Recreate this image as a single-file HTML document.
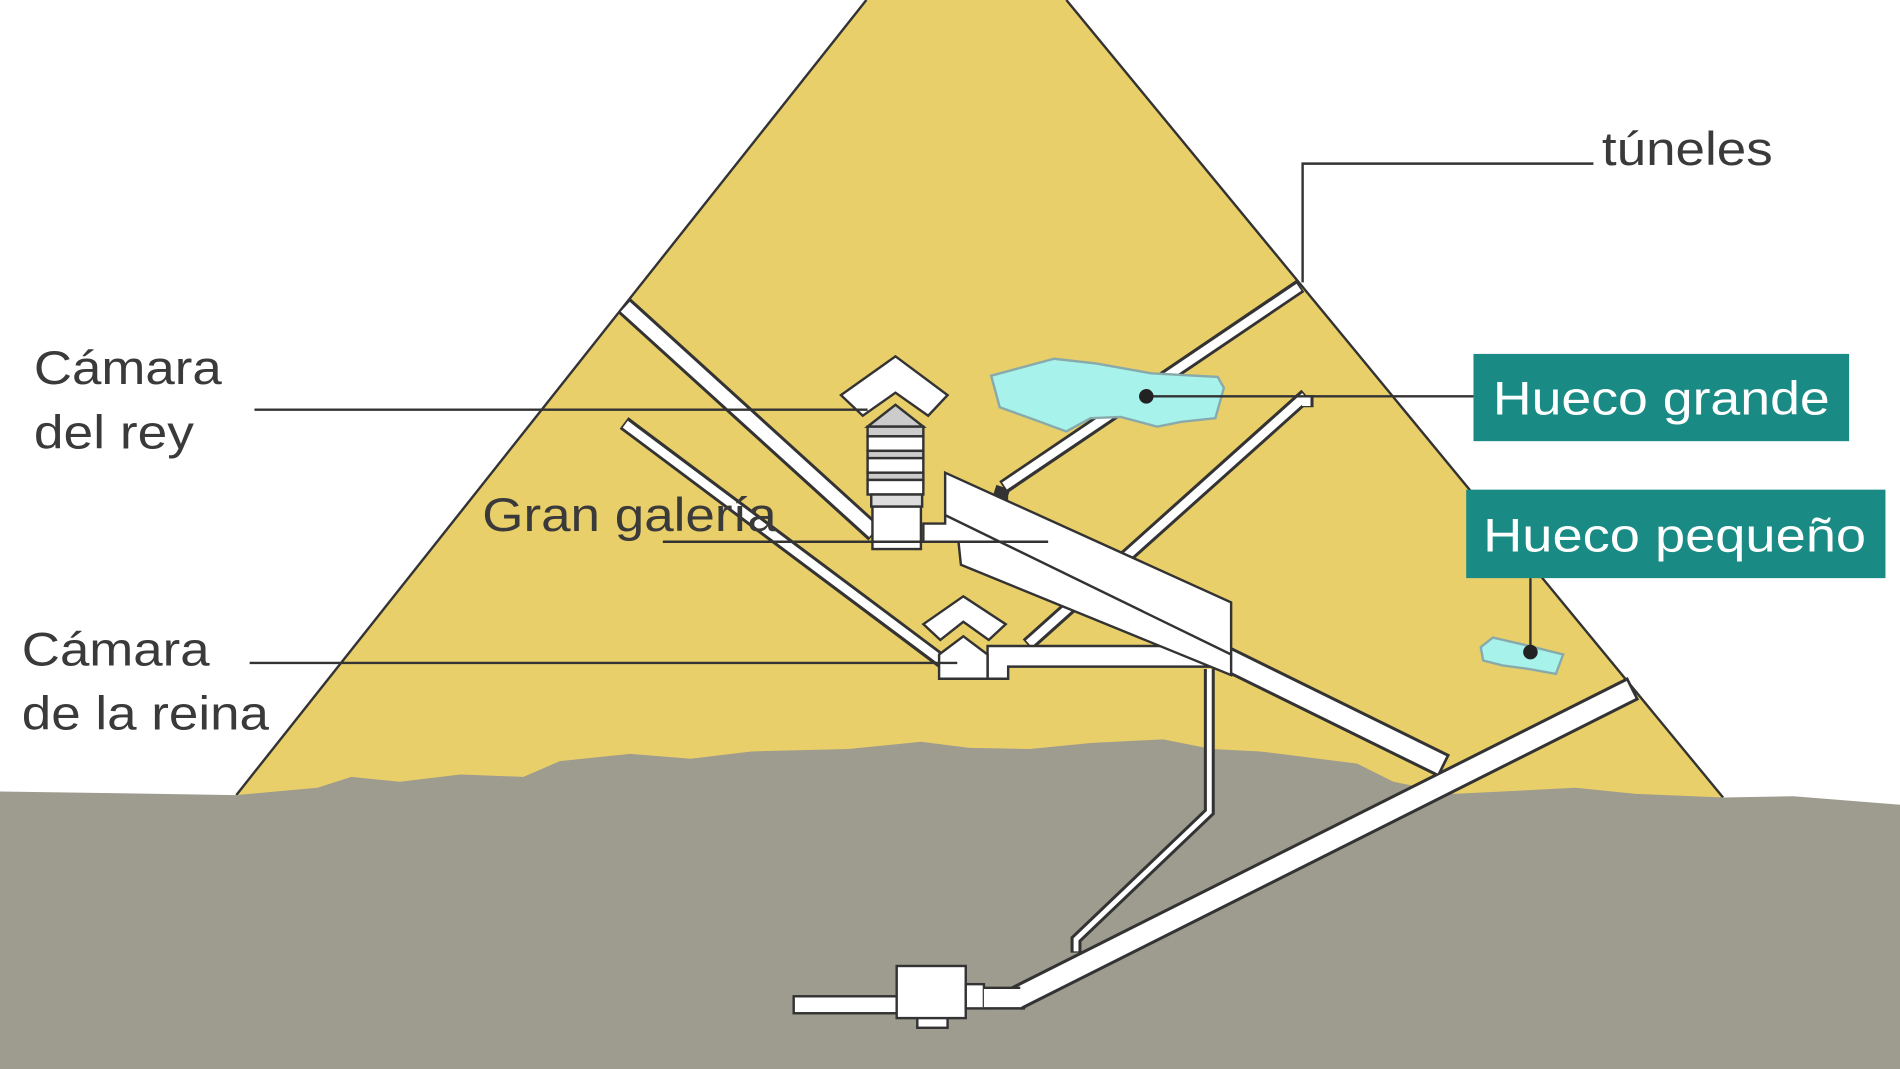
<!DOCTYPE html>
<html><head><meta charset="utf-8"><style>
html,body{margin:0;padding:0;background:#fff;}
svg{display:block;}
text{font-family:"Liberation Sans",sans-serif;}
</style></head><body>
<svg width="1900" height="1069" viewBox="0 0 1568 882" preserveAspectRatio="none" xmlns="http://www.w3.org/2000/svg">
<rect width="1568" height="882" fill="#fff"/>
<polygon points="195,656 715,0 880,0 1422,658" fill="#e9cf6a"/>
<line x1="195" y1="656" x2="715" y2="0" stroke="#333" stroke-width="2"/>
<line x1="880" y1="0" x2="1422" y2="658" stroke="#333" stroke-width="2"/>
<polygon fill="#9e9b8f" points="0,653 195,656 262,650 290,641 330,645 380,639 432,641 462,628 520,622 570,626 620,620 700,618 760,612 800,617 850,618 900,613 960,610 1000,618 1040,620 1080,625 1120,630 1150,645 1200,655 1260,652 1300,650 1350,655 1422,658 1480,657 1568,664 1568,882 0,882"/>
<g stroke="#333" stroke-linecap="butt" fill="none">
<line x1="515" y1="252" x2="722" y2="440" stroke-width="16"/>
<line x1="515" y1="349" x2="778" y2="546" stroke-width="12"/>
<line x1="828" y1="402" x2="1073" y2="236" stroke-width="12"/>
<polyline points="828,402 826,408 832,408" stroke-width="12"/>
<line x1="848" y1="532" x2="1078" y2="326" stroke-width="12"/>
<line x1="1078" y1="326" x2="1078" y2="336" stroke-width="12"/>
<polyline points="998,552 998,670 888,775 888,786" stroke-width="9"/>
<line x1="1348" y1="568" x2="838" y2="824" stroke-width="21"/>
<line x1="1192" y1="632" x2="1005" y2="540" stroke-width="21"/>
</g>
<g stroke="#fff" stroke-linecap="butt" fill="none">
<line x1="516" y1="253" x2="721" y2="439" stroke-width="11"/>
<line x1="516" y1="350" x2="777" y2="545" stroke-width="7"/>
<line x1="829" y1="401" x2="1072" y2="237" stroke-width="7"/>
<line x1="849" y1="531" x2="1077" y2="327" stroke-width="7"/>
<line x1="1078" y1="327" x2="1078" y2="335" stroke-width="7"/>
<polyline points="998,552 998,670 888,775 888,785" stroke-width="4"/>
<line x1="1346" y1="569" x2="838" y2="824" stroke-width="16"/>
<line x1="1190" y1="631" x2="1005" y2="540" stroke-width="16"/>
</g>
<g fill="#fff" stroke="#333" stroke-width="2">
<rect x="655" y="822" width="88" height="14"/>
<rect x="757" y="836" width="25" height="12"/>
<rect x="740" y="797" width="57" height="43"/>
<rect x="797" y="812" width="15" height="20"/>
<polygon points="812,815 842,815 848,823 842,832 812,832" stroke="none"/>
<line x1="812" y1="815" x2="842" y2="815"/>
<line x1="812" y1="832" x2="846" y2="832"/>
</g>
<g fill="#fff" stroke="#333" stroke-width="2">
<polygon points="815,533 1005,533 1005,550 832,550 832,560 815,560"/>
<polygon points="762,515 795,492 830,515 816,528 795,513 776,528"/>
<polygon points="775,540 795,525 815,540 815,560 775,560"/>
</g>
<g fill="#fff" stroke="#333" stroke-width="2">
<polygon points="780,390 1016,497 1016,557 793,466 791,447 762,447 762,432 780,432"/>
<line x1="780" y1="425" x2="1016" y2="540"/>
</g>
<g stroke="#333" stroke-width="2">
<polygon fill="#fff" points="694,326 739,294 782,326 766,343 739,324 712,343"/>
<polygon fill="#ccc" points="716,352 739,334 762,352"/>
<rect x="716" y="352" width="46" height="8" fill="#ccc"/>
<rect x="716" y="360" width="46" height="12" fill="#fff"/>
<rect x="716" y="372" width="46" height="6" fill="#ccc"/>
<rect x="716" y="378" width="46" height="12" fill="#fff"/>
<rect x="716" y="390" width="46" height="6" fill="#ccc"/>
<rect x="716" y="396" width="46" height="12" fill="#fff"/>
<rect x="719" y="408" width="42" height="10" fill="#ddd"/>
<rect x="720" y="418" width="40" height="35" fill="#fff"/>
</g>
<polygon points="818,310 870,296 905,300 950,308 1005,311 1010,320 1003,345 975,348 955,352 925,344 900,345 880,356 850,345 825,336" fill="#a8f2ec" stroke="#8aa" stroke-width="2"/>
<polygon points="1222,534 1232,526 1258,532 1290,540 1284,556 1262,552 1240,549 1224,545" fill="#a8f2ec" stroke="#8aa" stroke-width="2"/>
<g stroke="#333" stroke-width="2" fill="none">
<line x1="946" y1="327" x2="1216" y2="327"/>
<line x1="1263" y1="538" x2="1263" y2="477"/>
<polyline points="1315,135 1075,135 1075,233"/>
<line x1="210" y1="338" x2="716" y2="338"/>
<line x1="547" y1="447" x2="865" y2="447"/>
<line x1="206" y1="547" x2="790" y2="547"/>
</g>
<circle cx="946" cy="327" r="6" fill="#222"/>
<circle cx="1263" cy="538" r="6" fill="#222"/>
<rect x="1216" y="292" width="310" height="72" fill="#1a8b84"/>
<rect x="1210" y="404" width="346" height="73" fill="#1a8b84"/>
<g font-size="39" fill="#fff" lengthAdjust="spacingAndGlyphs">
<text x="1232" y="342" textLength="278" lengthAdjust="spacingAndGlyphs">Hueco grande</text>
<text x="1224" y="455" textLength="316" lengthAdjust="spacingAndGlyphs">Hueco pequeño</text>
</g>
<g font-size="39" fill="#3a3a3a">
<text x="1322" y="136" textLength="141" lengthAdjust="spacingAndGlyphs">túneles</text>
<text x="28" y="317" textLength="155" lengthAdjust="spacingAndGlyphs">Cámara</text>
<text x="28" y="370" textLength="132" lengthAdjust="spacingAndGlyphs">del rey</text>
<text x="398" y="438" textLength="243" lengthAdjust="spacingAndGlyphs">Gran galería</text>
<text x="18" y="549" textLength="155" lengthAdjust="spacingAndGlyphs">Cámara</text>
<text x="18" y="602" textLength="204" lengthAdjust="spacingAndGlyphs">de la reina</text>
</g>
</svg>
</body></html>
